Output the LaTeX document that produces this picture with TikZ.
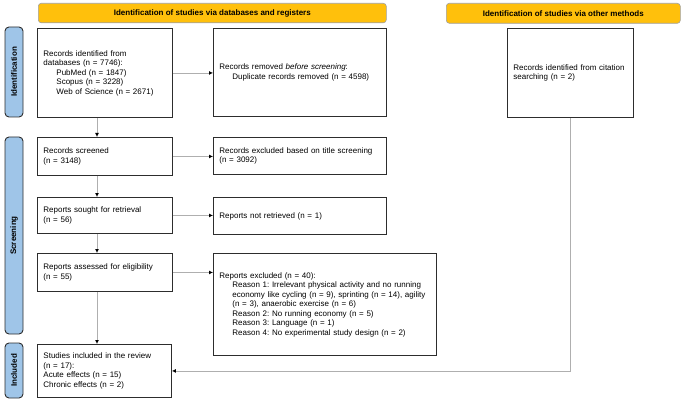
\documentclass[tikz,border=0pt]{standalone}
\usepackage{fontspec}
\setmainfont{Liberation Sans}
\usetikzlibrary{arrows.meta}
\definecolor{bannerfill}{RGB}{255,192,12}
\definecolor{bannerline}{RGB}{160,160,160}
\definecolor{labfill}{RGB}{159,197,232}
\definecolor{conn}{RGB}{175,175,175}
\definecolor{edge}{RGB}{45,45,45}
\frenchspacing
\begin{document}
\begin{tikzpicture}[x=1pt,y=-1pt,
  txt/.style={font=\fontsize{8}{9.5}\selectfont\frenchspacing},
  box/.style={txt, draw=edge, line width=0.9pt, fill=white, anchor=north west,
    align=left, inner xsep=6pt, inner ysep=0pt},
  banner/.style={draw=bannerline, line width=0.6pt, fill=bannerfill, rounded corners=3pt,
    anchor=north west, font=\fontsize{8}{9.5}\selectfont\bfseries, inner sep=0pt},
  sidelab/.style={draw=edge, fill=labfill, rounded corners=4pt, line width=0.9pt,
    inner sep=0pt, rotate=90, font=\fontsize{8}{9.5}\selectfont\bfseries},
  arr/.style={draw=conn, line width=0.8pt, -{Latex[length=4pt,width=4pt,color=black]}}]
\useasboundingbox (0,0) rectangle (685,401);

% banners
\node[banner, minimum width=348, minimum height=19.5] (ban1) at (38,3)
  {Identification of studies via databases and registers};
\node[banner, minimum width=234, minimum height=20] (ban2) at (446,3)
  {Identification of studies via other methods};

% side labels
\node[sidelab, minimum width=90, minimum height=18] (lab1) at (14,72) {Identification};
\node[sidelab, minimum width=197, minimum height=18] (lab2) at (14,235.5) {Screening};
\node[sidelab, minimum width=55, minimum height=18] (lab3) at (14,370.5) {Included};

% boxes
\node[box, minimum width=135, minimum height=89, text width=123] (rid) at (37,28)
  {Records identified from\\databases (n = 7746):\\
   \hspace*{13pt}PubMed (n = 1847)\\
   \hspace*{13pt}Scopus (n = 3228)\\
   \hspace*{13pt}Web of Science (n = 2671)};
\node[box, minimum width=173, minimum height=88, text width=161] (rrem) at (213,28)
  {Records removed \textit{before screening}:\\
   \hspace*{13pt}Duplicate records removed (n = 4598)};
\node[box, minimum width=126, minimum height=89, text width=114] (cit) at (507,28)
  {Records identified from citation\\searching (n = 2)};

\node[box, minimum width=135, minimum height=38, text width=123] (rscr) at (37,137)
  {Records screened\\(n = 3148)};
\node[box, minimum width=173, minimum height=37, text width=161] (rexc) at (213,137)
  {Records excluded based on title screening\\(n = 3092)};

\node[box, minimum width=135, minimum height=36, text width=123] (rsou) at (37,197)
  {Reports sought for retrieval\\(n = 56)};
\node[box, minimum width=173, minimum height=37, text width=161] (rnot) at (213,197)
  {Reports not retrieved (n = 1)};

\node[box, minimum width=135, minimum height=38, text width=123] (rass) at (37,253)
  {Reports assessed for eligibility\\(n = 55)};
\node[box, minimum width=223, minimum height=102, text width=211] (rexr) at (213,253)
  {Reports excluded (n = 40):\\
   \hspace*{13pt}Reason 1: Irrelevant physical activity and no running\\
   \hspace*{13pt}economy like cycling (n = 9), sprinting (n = 14), agility\\
   \hspace*{13pt}(n = 3), anaerobic exercise (n = 6)\\
   \hspace*{13pt}Reason 2: No running economy (n = 5)\\
   \hspace*{13pt}Reason 3: Language (n = 1)\\
   \hspace*{13pt}Reason 4: No experimental study design (n = 2)};

\node[box, minimum width=134, minimum height=53, text width=122] (sinc) at (37,344)
  {Studies included in the review\\(n = 17):\\Acute effects (n = 15)\\Chronic effects (n = 2)};

% connectors
\coordinate (spine) at (97,0);
\draw[arr] (rid.south -| spine) -- (rscr.north -| spine);
\draw[arr] (rscr.south -| spine) -- (rsou.north -| spine);
\draw[arr] (rsou.south -| spine) -- (rass.north -| spine);
\draw[arr] (rass.south -| spine) -- (sinc.north -| spine);

\draw[arr] (rid.east) -- (rid.east -| rrem.west);
\draw[arr] (rscr.east) -- (rscr.east -| rexc.west);
\draw[arr] (rsou.east) -- (rsou.east -| rnot.west);
\draw[arr] (rass.east) -- (rass.east -| rexr.west);

\draw[arr] (cit.south) |- (sinc.east);
\end{tikzpicture}
\end{document}
